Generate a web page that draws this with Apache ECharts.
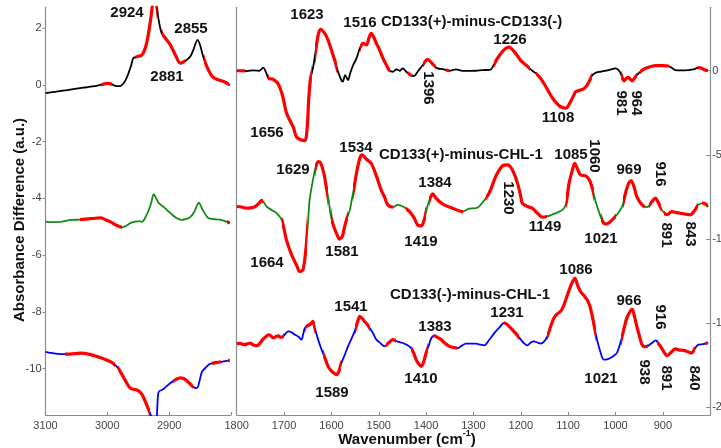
<!DOCTYPE html>
<html><head><meta charset="utf-8">
<script src="https://cdn.jsdelivr.net/npm/echarts@6/dist/echarts.min.js"></script>
<style>html,body{margin:0;padding:0;background:#fff}#c{width:721px;height:448px}</style>
</head><body><div id="c"></div>
<script>
// ---------- DATA ----------
// Left panel (3100-2800 cm-1), left y axis units
const blackLeftWn  = [3100,3085,3065,3050,3033,3020,3011,3000,2993,2987,2980,2973,2968,2962,2958,2952,2944,2938,2934,2929,2925,2921,2917,2912,2906,2898,2890,2882,2874,2866,2861,2854,2850,2845,2839,2831,2823,2812,2802];
const blackLeftVal = [-0.29,-0.24,-0.18,-0.13,-0.08,-0.04,0.0,0.06,0.03,-0.03,-0.04,0.08,0.29,0.65,0.94,1.0,1.06,1.35,1.75,2.45,3.0,2.9,2.29,1.82,1.65,1.41,1.06,0.77,0.85,1.0,1.23,1.59,1.41,1.0,0.65,0.32,0.2,0.12,0.0];
const greenLeftWn  = [3100,3088,3076,3068,3060,3044,3030,3020,3011,3003,2995,2985,2976,2968,2963,2955,2948,2944,2938,2933,2929,2925,2921,2917,2909,2898,2889,2880,2872,2866,2860,2856,2852,2848,2845,2837,2828,2818,2810,2802];
const greenLeftVal = [-4.82,-4.84,-4.83,-4.8,-4.76,-4.75,-4.72,-4.7,-4.69,-4.75,-4.83,-4.95,-5.02,-4.95,-4.87,-4.82,-4.8,-4.83,-4.65,-4.41,-4.15,-3.85,-4.0,-4.16,-4.3,-4.52,-4.68,-4.76,-4.72,-4.66,-4.5,-4.3,-4.15,-4.3,-4.44,-4.69,-4.73,-4.75,-4.8,-4.87];
const blueLeftWn   = [3100,3088,3076,3060,3044,3027,3011,2995,2984,2974,2963,2952,2945,2941,2936,2933,2928,2925,2921,2919,2917,2909,2898,2890,2882,2876,2871,2861,2855,2851,2847,2840,2834,2818,2802];
const blueLeftVal  = [-9.41,-9.46,-9.49,-9.49,-9.46,-9.51,-9.62,-9.76,-9.95,-10.3,-10.69,-10.76,-10.88,-11.04,-11.3,-11.46,-11.75,-11.95,-11.9,-11.3,-10.83,-10.72,-10.51,-10.4,-10.33,-10.36,-10.44,-10.65,-10.69,-10.45,-10.12,-9.95,-9.84,-9.77,-9.71];

// Right panel (1800-800 cm-1), right y axis units
const blackRightWn  = [1800,1790,1778,1765,1752,1744,1738,1733,1723,1712,1703,1695,1688,1680,1674,1665,1656,1651,1648,1644,1639,1633,1628,1623,1614,1607,1600,1593,1586,1579,1576,1571,1565,1560,1554,1547,1540,1533,1526,1521,1516,1511,1505,1498,1491,1484,1477,1470,1463,1456,1449,1442,1432,1425,1418,1407,1397,1386,1376,1365,1351,1337,1323,1295,1281,1265,1258,1250,1240,1232,1225,1211,1200,1189,1178,1168,1157,1147,1138,1130,1122,1116,1105,1100,1095,1088,1084,1074,1066,1060,1054,1049,1040,1032,1014,1000,994,989,982,977,973,969,965,960,955,945,937,925,916,900,888,880,874,860,846,835,825,818,811,805];
const blackRightVal = [0,0,-0.02,0.02,0,0.18,-0.1,-0.45,-0.51,-0.8,-1.5,-2.5,-2.93,-3.4,-3.92,-4.1,-4.15,-3.32,-1.74,-0.45,0.14,1.23,2.12,2.46,2.22,1.82,1.23,0.63,-0.06,-0.55,-0.65,-0.26,-0.55,-0.12,0.34,0.73,1.33,1.63,1.53,1.92,2.22,2.02,1.63,1.23,0.73,0.34,0,-0.06,0.08,0,0.14,-0.06,-0.26,-0.31,-0.06,0.34,0.68,0.4,0.14,0.1,0,0.08,-0.01,0,0.04,0.05,0.3,0.7,1.1,1.32,1.4,1.03,0.6,0.34,0.05,-0.16,-0.5,-0.95,-1.4,-1.74,-2.0,-2.14,-2.23,-2.1,-1.84,-1.45,-1.25,-1.15,-1.05,-0.85,-0.55,-0.26,-0.1,-0.06,0.04,0.14,0.05,-0.16,-0.61,-0.45,-0.39,-0.5,-0.61,-0.45,-0.26,0,0.14,0.25,0.3,0.3,0.28,0.15,0.04,0.02,0.04,0.08,0.18,0.15,0.04,0];
const greenRightWn  = [1800,1790,1779,1770,1761,1752,1747,1742,1737,1725,1716,1705,1695,1684,1674,1667,1660,1654,1649,1646,1639,1633,1628,1623,1616,1611,1606,1601,1595,1588,1583,1577,1572,1567,1561,1557,1553,1547,1540,1535,1526,1516,1505,1495,1488,1481,1470,1460,1449,1435,1425,1418,1410,1404,1399,1394,1386,1379,1372,1362,1344,1323,1309,1295,1288,1267,1253,1239,1228,1218,1207,1200,1197,1186,1176,1165,1155,1144,1126,1112,1105,1098,1091,1086,1081,1074,1063,1055,1049,1042,1034,1025,1018,1007,997,986,979,972,967,961,955,944,933,923,916,909,900,891,881,870,856,842,832,825,814,804];
const greenRightVal = [-8.07,-8.1,-8.17,-8.15,-8.07,-7.85,-7.7,-7.85,-8.07,-8.3,-8.46,-8.86,-10.05,-10.94,-11.53,-11.93,-11.83,-10.64,-8.86,-7.67,-6.49,-5.7,-5.4,-5.46,-6.09,-6.88,-7.67,-8.66,-9.26,-9.75,-10.01,-9.85,-9.26,-8.76,-8.27,-7.67,-7.08,-6.09,-5.2,-5.0,-5.26,-5.5,-6.25,-7.08,-7.48,-7.97,-8.11,-7.97,-8.07,-8.37,-8.76,-9.16,-9.22,-8.86,-8.27,-7.77,-7.32,-7.57,-7.77,-7.97,-8.17,-8.37,-8.2,-8.17,-8.07,-7.28,-6.29,-5.66,-5.6,-5.89,-6.68,-7.48,-7.87,-8.07,-8.17,-8.46,-8.7,-8.66,-8.46,-8.27,-7.95,-6.68,-5.89,-5.5,-5.79,-6.19,-6.25,-6.49,-6.98,-7.77,-8.46,-9.06,-9.1,-8.86,-8.56,-8.07,-7.28,-6.68,-6.55,-6.88,-7.48,-7.97,-8.11,-7.77,-7.57,-7.87,-8.37,-8.56,-8.37,-8.43,-8.5,-8.56,-8.27,-7.97,-7.87,-8.07];
const blueRightWn   = [1800,1793,1786,1779,1772,1765,1758,1751,1744,1738,1733,1728,1723,1717,1712,1707,1702,1696,1691,1684,1677,1670,1663,1660,1656,1650,1646,1642,1639,1634,1628,1623,1618,1612,1607,1600,1593,1589,1584,1579,1572,1565,1558,1551,1545,1540,1535,1530,1525,1519,1512,1505,1496,1488,1480,1470,1460,1449,1440,1432,1426,1421,1415,1410,1405,1400,1394,1389,1383,1376,1368,1360,1351,1342,1334,1325,1316,1305,1295,1285,1277,1267,1256,1245,1235,1226,1218,1208,1200,1193,1186,1179,1172,1165,1158,1151,1144,1137,1130,1123,1116,1110,1105,1100,1095,1090,1086,1080,1074,1067,1060,1054,1049,1044,1039,1032,1025,1018,1011,1004,997,991,986,981,976,970,965,960,955,949,944,938,933,928,923,915,910,905,898,891,883,874,865,856,847,839,832,825,815,807,804];
const blueRightVal  = [-16.22,-16.2,-16.28,-16.25,-16.18,-16.3,-16.34,-16.2,-15.94,-15.8,-15.69,-15.75,-15.88,-15.8,-15.75,-15.85,-15.79,-15.6,-15.49,-15.55,-15.69,-15.8,-15.98,-15.7,-15.29,-15.15,-15.09,-15.0,-14.9,-15.4,-15.98,-16.4,-16.77,-17.2,-17.57,-17.85,-18.0,-18.06,-17.85,-17.37,-16.9,-16.38,-15.95,-15.49,-14.95,-14.6,-14.72,-14.9,-15.05,-15.29,-15.6,-15.98,-16.2,-16.38,-16.2,-15.98,-16.1,-16.18,-16.3,-16.48,-16.8,-17.17,-17.45,-17.57,-17.3,-16.77,-16.3,-15.88,-15.75,-15.85,-15.98,-16.2,-16.38,-16.45,-16.48,-16.35,-16.22,-16.22,-16.22,-16.28,-16.32,-16.0,-15.59,-15.25,-14.99,-15.15,-15.39,-15.7,-15.98,-16.2,-16.32,-16.15,-16.08,-16.15,-16.22,-16.1,-15.79,-15.2,-14.69,-14.45,-14.3,-14.0,-13.61,-13.2,-12.82,-12.5,-12.32,-12.75,-13.12,-13.35,-13.61,-14.0,-14.6,-15.3,-15.98,-16.7,-17.17,-17.15,-17.07,-16.95,-16.77,-16.3,-15.79,-15.2,-14.69,-14.35,-14.16,-14.6,-15.19,-15.8,-16.28,-16.4,-16.38,-16.28,-16.18,-16.02,-16.2,-16.38,-16.7,-16.93,-16.75,-16.53,-16.6,-16.62,-16.7,-16.77,-16.5,-16.28,-16.25,-16.18,-16.2];

// Significant (red) wavenumber ranges [high, low]
const redBlackLeft  = [[3010,2993],[2955,2919],[2911,2874],[2843,2803]];
const redGreenLeft  = [[3045,2976],[2806,2800]];
const redBlueLeft   = [[3068,2988],[2982,2931],[2893,2861],[2830,2816],[2805,2800]];
const redBlackRight = [[1800,1783],[1733,1640],[1635,1588],[1540,1477],[1438,1430],[1407,1379],[1358,1351],[1256,1181],[1168,1049],[989,955],[948,886],[825,805]];
const redGreenRight = [[1800,1744],[1705,1651],[1635,1607],[1600,1565],[1554,1470],[1442,1400],[1393,1323],[1274,1144],[1105,1046],[1030,1000],[985,937],[930,903],[898,825],[818,804]];
const redBlueRight  = [[1800,1700],[1656,1635],[1618,1579],[1551,1519],[1484,1463],[1432,1397],[1386,1334],[1235,1204],[1144,1042],[988,931],[912,832],[812,804]];

// Tick labels
const xTicksLeft  = [3100,3000,2900];
const xTicksRight = [1800,1700,1600,1500,1400,1300,1200,1100,1000,900];
const yTicksLeft  = [-10,-8,-6,-4,-2,0,2];
const yTicksRight = [-20,-15,-10,-5,0];

// Peak / title annotations: [text, x, y, rotated]
const annotations = [
  ['2924',127,13,0],['2855',191,29,0],['2881',167,77,0],
  ['1623',307,15,0],['1516',360,23,0],['1656',267,133,0],['1396',428,88,1],
  ['1226',510,40,0],['1108',558,118,0],['981',621,103,1],['964',636,103,1],
  ['1629',293,170,0],['1534',356,148,0],['1085',571,155,0],['1060',594,156,1],
  ['969',629,170,0],['916',660,174,1],['1384',435,183,0],['1230',508,198,1],
  ['1664',267,263,0],['1581',342,252,0],['1419',421,242,0],['1149',545,227,0],
  ['1021',601,239,0],['891',666,235,1],['843',690,234,1],
  ['1541',351,307,0],['1383',435,327,0],['1589',332,393,0],['1410',421,379,0],
  ['1231',507,313,0],['1086',576,270,0],['966',629,301,0],['916',660,317,1],
  ['1021',601,379,0],['938',644,372,1],['891',666,378,1],['840',694,378,1]
];
const titles = [['CD133(+)-minus-CD133(-)',381,22],['CD133(+)-minus-CHL-1',379,155],['CD133(-)-minus-CHL-1',390,295]];

// ---------- CHART ----------
const FONT = '"Liberation Sans", Arial, sans-serif';
const zip = (a,b) => a.map((v,i)=>[v,b[i]]);
const chart = echarts.init(document.getElementById('c'), null, {renderer:'canvas'});

const traces = [
  {wn:blackLeftWn, val:blackLeftVal, red:redBlackLeft, color:'#000000', ax:0},
  {wn:greenLeftWn, val:greenLeftVal, red:redGreenLeft, color:'#138a13', ax:0},
  {wn:blueLeftWn,  val:blueLeftVal,  red:redBlueLeft,  color:'#0000ff', ax:0},
  {wn:blackRightWn,val:blackRightVal,red:redBlackRight,color:'#000000', ax:1},
  {wn:greenRightWn,val:greenRightVal,red:redGreenRight,color:'#138a13', ax:1},
  {wn:blueRightWn, val:blueRightVal, red:redBlueRight, color:'#0000ff', ax:1}
];
const series = [], visualMap = [];
traces.forEach(t => {
  const data = zip(t.wn, t.val);
  series.push({type:'line', xAxisIndex:t.ax, yAxisIndex:t.ax, data, symbol:'none', smooth:0.3,
    lineStyle:{color:t.color, width:1.8}, itemStyle:{color:t.color}, silent:true, z:2});
  series.push({type:'line', xAxisIndex:t.ax, yAxisIndex:t.ax, data, symbol:'none', smooth:0.3,
    lineStyle:{width:3.2}, silent:true, z:3});
  visualMap.push({type:'piecewise', show:false, dimension:0, seriesIndex:series.length-1,
    pieces:t.red.map(r=>({min:r[1], max:r[0], color:'#ff0000'})),
    outOfRange:{color:'rgba(255,0,0,0)'}});
});

const axisCommon = {
  axisLine:{show:true, onZero:false, lineStyle:{color:'#8c8c8c', width:1.2}},
  splitLine:{show:false}
};
const labelStyle = {color:'#444', fontSize:11, fontFamily:FONT, formatter:v=>String(v)};

const graphic = [];
annotations.forEach(a => graphic.push({type:'text', x:a[1], y:a[2], rotation:a[3]?-Math.PI/2:0,
  style:{text:a[0], font:'bold 15px '+FONT, fill:'#111', align:'center', verticalAlign:'middle'}, z:10}));
titles.forEach(a => graphic.push({type:'text', x:a[1], y:a[2],
  style:{text:a[0], font:'bold 15px '+FONT, fill:'#111', align:'left', verticalAlign:'middle'}, z:10}));
graphic.push({type:'text', x:20, y:220, rotation:Math.PI/2,
  style:{text:'Absorbance Difference (a.u.)', font:'bold 15px '+FONT, fill:'#111', align:'center', verticalAlign:'middle'}});
graphic.push({type:'text', x:407, y:438,
  style:{text:'{a|Wavenumber (cm}{s|-1}{a|)}', align:'center', verticalAlign:'middle',
    rich:{a:{font:'bold 15px '+FONT, fill:'#111', lineHeight:18, verticalAlign:'bottom'},
          s:{font:'bold 9px '+FONT, fill:'#111', lineHeight:18, verticalAlign:'top'}}}});

chart.setOption({
  animation:false,
  backgroundColor:'#fff',
  grid:[
    {left:45.5, top:7.3, width:185.5, height:407.7, containLabel:false, outerBoundsMode:'none'},
    {left:236.7, top:7.3, width:473.5, height:407.7, containLabel:false, outerBoundsMode:'none'}
  ],
  xAxis:[
    Object.assign({gridIndex:0, type:'value', min:2800, max:3100, interval:100, inverse:true,
      axisTick:{show:true, inside:true, length:3, lineStyle:{color:'#8c8c8c'}},
      axisLabel:Object.assign({margin:5, customValues:xTicksLeft}, labelStyle)}, axisCommon),
    Object.assign({gridIndex:1, type:'value', min:800, max:1800, interval:100, inverse:true,
      axisTick:{show:true, inside:true, length:3, lineStyle:{color:'#8c8c8c'}},
      axisLabel:Object.assign({margin:5, customValues:xTicksRight}, labelStyle)}, axisCommon)
  ],
  yAxis:[
    Object.assign({gridIndex:0, type:'value', min:-11.64, max:2.74, position:'left',
      axisTick:{show:true, inside:false, length:3, customValues:yTicksLeft, lineStyle:{color:'#8c8c8c'}},
      axisLabel:Object.assign({margin:4, customValues:yTicksLeft}, labelStyle)}, axisCommon),
    Object.assign({gridIndex:1, type:'value', min:-20.46, max:3.77, position:'right',
      axisTick:{show:true, inside:true, length:4, customValues:yTicksRight, lineStyle:{color:'#8c8c8c'}},
      axisLabel:Object.assign({margin:2, customValues:yTicksRight}, labelStyle)}, axisCommon),
    Object.assign({gridIndex:1, type:'value', min:-20.46, max:3.77, position:'left',
      axisTick:{show:false}, axisLabel:{show:false}}, axisCommon)
  ],
  visualMap,
  series,
  graphic
});
</script>
</body></html>
